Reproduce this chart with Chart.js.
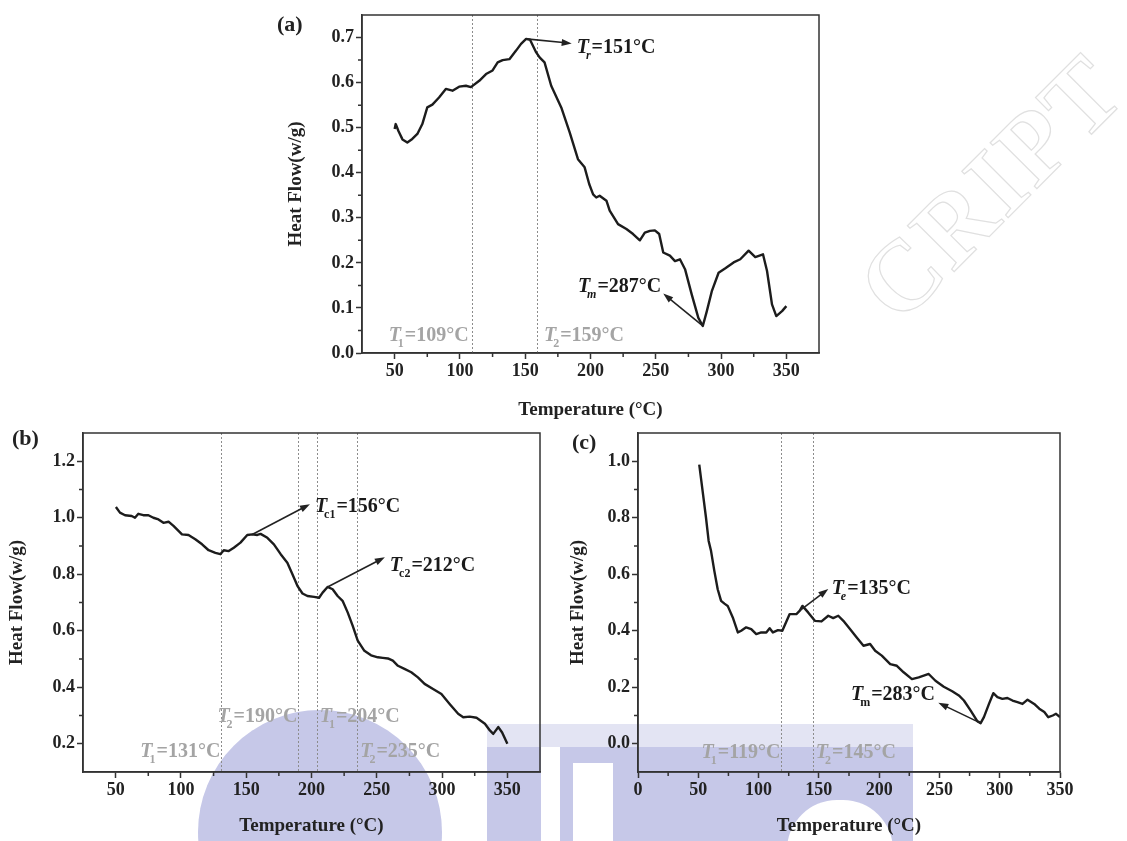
<!DOCTYPE html>
<html>
<head>
<meta charset="utf-8">
<title>DSC heat flow</title>
<script src="https://cdn.jsdelivr.net/npm/chart.js@4.4.1/dist/chart.umd.min.js"></script>
<style>
  html, body { margin: 0; padding: 0; background: #fff; }
  #page { position: relative; width: 1127px; height: 841px; overflow: hidden; }
  canvas { position: absolute; z-index: 2; }
  .wm { position: absolute; z-index: 1; background: #c6c8e8; }
  .wm.light { background: #e3e4f3; }
  .wm.white { background: #fff; }
  .stamp { position: absolute; z-index: 0; left: 835px; top: 262px; transform-origin: 0 0; transform: rotate(-45deg);
           font: bold 100px "Liberation Serif", serif; letter-spacing: 3px; color: transparent;
           -webkit-text-stroke: 1.2px #e0e0e0; white-space: nowrap; }
</style>
</head>
<body>
<div id="page">
  <!-- faint stamps behind the panels -->
  <div class="stamp">CRIPT</div>
  <div class="wm light" style="left:487px; top:724px; width:426px; height:23px;"></div>
  <div class="wm" style="left:198px; top:710px; width:244px; height:244px; border-radius:50%;"></div>
  <div class="wm" style="left:487px; top:747px; width:54px; height:94px;"></div>
  <div class="wm" style="left:560px; top:747px; width:353px; height:16px;"></div>
  <div class="wm" style="left:560px; top:763px; width:13px; height:78px;"></div>
  <div class="wm" style="left:613px; top:763px; width:300px; height:78px;"></div>
  <div class="wm white" style="left:787px; top:800px; width:106px; height:60px; border-radius:50px 50px 0 0;"></div>

  <canvas id="chartA" width="590" height="430" style="left:250px; top:0px;"></canvas>
  <canvas id="chartB" width="560" height="421" style="left:0px; top:420px;"></canvas>
  <canvas id="chartC" width="567" height="421" style="left:560px; top:420px;"></canvas>
</div>

<script>
// ---- data ----
const tempA = [50, 50.8, 53, 56, 59.7, 63.5, 67.4, 71.2, 75, 78.9, 84, 89.2, 94.3, 99.4, 104.6, 108.4,
  114.8, 120, 125, 128.9, 132.7, 137.9, 143, 146.8, 150.7, 153.7, 158.4, 161, 164.8, 169.9, 177.6, 184,
  190.4, 195.5, 199, 202, 204.4, 207, 212.2, 214.7, 221.1, 227.5, 232.6, 237.8, 241.6, 245.5, 249.3,
  252.6, 255.7, 260.8, 264.7, 268.5, 272.4, 277.5, 282.6, 286, 289.1, 293, 298.1, 303.3, 309.6, 314.7,
  321.1, 326.2, 332.1, 335.2, 339, 342.3, 346.7, 350];
const heatA = [0.497, 0.508, 0.492, 0.474, 0.467, 0.475, 0.486, 0.508, 0.545, 0.551, 0.567, 0.586, 0.582,
  0.591, 0.593, 0.590, 0.604, 0.619, 0.627, 0.645, 0.650, 0.652, 0.671, 0.686, 0.697, 0.695, 0.667, 0.656,
  0.645, 0.593, 0.545, 0.490, 0.430, 0.412, 0.375, 0.352, 0.345, 0.349, 0.338, 0.316, 0.286, 0.275, 0.264,
  0.250, 0.267, 0.271, 0.272, 0.264, 0.223, 0.216, 0.204, 0.208, 0.186, 0.130, 0.078, 0.060, 0.093, 0.138,
  0.178, 0.188, 0.201, 0.208, 0.227, 0.213, 0.219, 0.182, 0.108, 0.082, 0.093, 0.104];

const tempB = [50.2, 53.3, 57.2, 62.3, 64.8, 67.4, 71.2, 75.1, 78.9, 82.8, 86.6, 90.5, 94.3, 100.8, 105.8,
  111, 116.2, 121.2, 126.4, 130.2, 132.8, 136.6, 140.5, 145.6, 150.8, 154.6, 158.5, 161, 166.2, 171.2,
  176.4, 181.5, 185.4, 189.2, 193.1, 196.9, 202, 205.8, 208.5, 212.3, 216.2, 220, 223.8, 227.7, 231.5,
  235.4, 240.5, 245.6, 250.8, 254.6, 258.5, 262.3, 266.2, 271.2, 276.4, 281.5, 286.6, 293.1, 299.5,
  305.8, 312.3, 316.2, 321.2, 326.4, 332.8, 336.6, 339.2, 343.1, 346, 350];
const heatB = [1.038, 1.018, 1.009, 1.006, 1.000, 1.014, 1.009, 1.009, 1.000, 0.994, 0.982, 0.986, 0.971,
  0.941, 0.939, 0.924, 0.906, 0.885, 0.876, 0.871, 0.885, 0.882, 0.894, 0.912, 0.939, 0.941, 0.939, 0.943,
  0.929, 0.906, 0.871, 0.841, 0.800, 0.759, 0.732, 0.723, 0.720, 0.717, 0.735, 0.755, 0.747, 0.723, 0.706,
  0.665, 0.618, 0.565, 0.529, 0.513, 0.506, 0.504, 0.502, 0.494, 0.476, 0.465, 0.453, 0.435, 0.412, 0.394,
  0.376, 0.341, 0.306, 0.294, 0.296, 0.292, 0.271, 0.247, 0.235, 0.259, 0.240, 0.200];

const tempC = [50.8, 53.6, 56.4, 58.6, 60.6, 63.3, 66.1, 68.9, 71.7, 74.4, 78.6, 82.8, 85.6, 89.7, 93.9,
  98.1, 102.2, 106.4, 109.2, 111.9, 116.1, 119.7, 125.8, 131.4, 134.2, 136.4, 141.1, 146.7, 152.2, 157.8,
  161.9, 166.1, 170.3, 175.8, 181.4, 187, 192.5, 196.7, 202.2, 209.2, 214.7, 220.3, 227.2, 232.8, 237,
  241.1, 246.7, 253.6, 260.6, 266.1, 270.3, 275.8, 281.4, 284.2, 286.9, 291.1, 294.7, 298.1, 302.2, 306.4,
  310.6, 314.7, 318.9, 323.1, 328.6, 332.8, 337, 340.3, 344, 346.7, 350];
const heatC = [0.988, 0.894, 0.800, 0.718, 0.682, 0.612, 0.547, 0.506, 0.496, 0.488, 0.447, 0.394, 0.400,
  0.412, 0.406, 0.388, 0.394, 0.394, 0.409, 0.394, 0.402, 0.400, 0.459, 0.459, 0.471, 0.488, 0.465, 0.435,
  0.433, 0.453, 0.445, 0.453, 0.435, 0.406, 0.376, 0.347, 0.353, 0.329, 0.312, 0.282, 0.276, 0.253, 0.229,
  0.235, 0.241, 0.247, 0.223, 0.202, 0.186, 0.171, 0.153, 0.118, 0.080, 0.073, 0.094, 0.141, 0.179, 0.165,
  0.159, 0.162, 0.153, 0.147, 0.141, 0.156, 0.141, 0.124, 0.112, 0.094, 0.100, 0.106, 0.094];

// axis ticks
const xTicksAB = [50, 100, 150, 200, 250, 300, 350];
const xMinorAB = [75, 125, 175, 225, 275, 325];
const xTicksC = [0, 50, 100, 150, 200, 250, 300, 350];
const xMinorC = [25, 75, 125, 175, 225, 275, 325];
const yTicksA = [0, 0.1, 0.2, 0.3, 0.4, 0.5, 0.6, 0.7];
const yMinorA = [0.05, 0.15, 0.25, 0.35, 0.45, 0.55, 0.65];
const yTicksB = [0.2, 0.4, 0.6, 0.8, 1.0, 1.2];
const yMinorB = [0.3, 0.5, 0.7, 0.9, 1.1];
const yTicksC = [0, 0.2, 0.4, 0.6, 0.8, 1.0];
const yMinorC = [0.1, 0.3, 0.5, 0.7, 0.9];

// transition temperatures (dotted guides) and marked peaks
const linesA = [109, 159];
const lineNamesA = ['1', '2'];
const linesB = [131, 190, 204, 235];
const lineNamesB = ['1', '2', '1', '2'];
const linesC = [119, 145];
const lineNamesC = ['1', '2'];
const peaksA = [151, 287];
const peakNamesA = ['r', 'm'];
const peaksB = [156, 212];
const peakNamesB = ['c1', 'c2'];
const peaksC = [135, 283];
const peakNamesC = ['e', 'm'];

const FONT = '"Liberation Serif", "Times New Roman", serif';

function setFont(ctx, size, italic) {
    ctx.font = (italic ? 'italic ' : '') + 'bold ' + size + 'px ' + FONT;
}

// T with a subscript, then "=xxx°C"
function drawTag(ctx, x, y, name, nameItalic, rest, size, color, align) {
    const sub = Math.round(size * 0.62);
    setFont(ctx, size, true);
    const wT = ctx.measureText('T').width;
    setFont(ctx, sub, nameItalic);
    const wS = ctx.measureText(name).width;
    setFont(ctx, size, false);
    const wR = ctx.measureText(rest).width;
    const total = wT + wS + wR - 2;
    const x0 = align === 'right' ? x - total : x;
    ctx.fillStyle = color;
    ctx.textAlign = 'left';
    ctx.textBaseline = 'alphabetic';
    setFont(ctx, size, true);
    ctx.fillText('T', x0, y);
    setFont(ctx, sub, nameItalic);
    ctx.fillText(name, x0 + wT - 3, y + size * 0.3);
    setFont(ctx, size, false);
    ctx.fillText(rest, x0 + wT + wS - 2, y);
}

function drawArrow(ctx, x1, y1, x2, y2) {
    const ang = Math.atan2(y2 - y1, x2 - x1);
    ctx.save();
    ctx.strokeStyle = '#222';
    ctx.fillStyle = '#222';
    ctx.lineWidth = 1.6;
    ctx.beginPath();
    ctx.moveTo(x1, y1);
    ctx.lineTo(x2 - 6 * Math.cos(ang), y2 - 6 * Math.sin(ang));
    ctx.stroke();
    ctx.beginPath();
    ctx.moveTo(x2, y2);
    ctx.lineTo(x2 - 10 * Math.cos(ang) + 3.5 * Math.sin(ang), y2 - 10 * Math.sin(ang) - 3.5 * Math.cos(ang));
    ctx.lineTo(x2 - 10 * Math.cos(ang) - 3.5 * Math.sin(ang), y2 - 10 * Math.sin(ang) + 3.5 * Math.cos(ang));
    ctx.closePath();
    ctx.fill();
    ctx.restore();
}

const decor = {
    id: 'decor',
    beforeDatasetsDraw(chart, args, o) {
        const { ctx, chartArea: a, scales: { x } } = chart;
        ctx.save();
        ctx.strokeStyle = '#8c8c8c';
        ctx.lineWidth = 1;
        ctx.setLineDash([2, 2]);
        o.lines.forEach(v => {
            const px = Math.round(x.getPixelForValue(v)) + 0.5;
            ctx.beginPath();
            ctx.moveTo(px, a.top);
            ctx.lineTo(px, a.bottom);
            ctx.stroke();
        });
        ctx.restore();
    },
    afterDraw(chart, args, o) {
        const { ctx, chartArea: a, scales: { x, y } } = chart;
        ctx.save();
        // box round the plot
        ctx.strokeStyle = '#333';
        ctx.lineWidth = 1.5;
        ctx.strokeRect(a.left, a.top, a.right - a.left, a.bottom - a.top);
        // minor ticks
        ctx.beginPath();
        o.minorX.forEach(v => {
            const px = x.getPixelForValue(v);
            ctx.moveTo(px, a.bottom);
            ctx.lineTo(px, a.bottom + 4);
        });
        o.minorY.forEach(v => {
            const py = y.getPixelForValue(v);
            ctx.moveTo(a.left, py);
            ctx.lineTo(a.left - 4, py);
        });
        ctx.stroke();

        // panel letter
        setFont(ctx, 22, false);
        ctx.fillStyle = '#222';
        ctx.textAlign = 'left';
        ctx.fillText(o.panel, o.panelAt[0], o.panelAt[1]);

        // grey labels next to the dotted guides
        o.tags.forEach(t => {
            const v = o.lines[t.i];
            const px = x.getPixelForValue(v);
            const right = t.side === 'left';
            drawTag(ctx, right ? px - t.gap : px + t.gap, y.getPixelForValue(t.y),
                o.lineNames[t.i], false, '=' + v + '°C', 20, '#a4a4a4', right ? 'right' : 'left');
        });

        // peak arrows
        o.notes.forEach(n => {
            const T = o.peaks[n.i];
            let best = 0;
            o.temps.forEach((t, k) => { if (Math.abs(t - T) < Math.abs(o.temps[best] - T)) best = k; });
            const sx = x.getPixelForValue(o.temps[best]);
            const sy = y.getPixelForValue(o.heats[best]);
            drawArrow(ctx, sx, sy, x.getPixelForValue(n.tip[0]), y.getPixelForValue(n.tip[1]));
            drawTag(ctx, x.getPixelForValue(n.text[0]), y.getPixelForValue(n.text[1]),
                o.peakNames[n.i], n.it, '=' + T + '°C', 20, '#1a1a1a', n.align);
        });
        ctx.restore();
    }
};

function makePanel(id, p) {
    const tickFont = { family: FONT, size: 18, weight: 'bold' };
    const titleFont = { family: FONT, size: 19, weight: 'bold' };
    const points = p.temps.map((t, i) => ({ x: t, y: p.heats[i] }));
    return new Chart(document.getElementById(id), {
        type: 'scatter',
        data: {
            datasets: [{
                data: points,
                showLine: true,
                borderColor: '#1c1c1c',
                borderWidth: 2.4,
                borderJoinStyle: 'round',
                pointRadius: 0,
                tension: 0
            }]
        },
        options: {
            responsive: false,
            animation: false,
            layout: { padding: p.padding },
            plugins: {
                legend: { display: false },
                tooltip: { enabled: false },
                decor: p.decor
            },
            scales: {
                x: {
                    type: 'linear',
                    min: p.xMin,
                    max: p.xMax,
                    afterBuildTicks: s => { s.ticks = p.xTicks.map(v => ({ value: v })); },
                    afterFit: s => { s.height = p.xAxisH; },
                    grid: { drawOnChartArea: false, drawTicks: true, tickLength: 6, tickColor: '#333', tickWidth: 1.5 },
                    border: { display: true, color: '#333', width: 1.5 },
                    ticks: { font: tickFont, color: '#222', padding: 2, maxRotation: 0, autoSkip: false, callback: v => String(v) },
                    title: { display: true, text: 'Temperature (°C)', font: titleFont, color: '#222', padding: { top: 0, bottom: p.xTitlePad } }
                },
                y: {
                    min: p.yMin,
                    max: p.yMax,
                    afterBuildTicks: s => { s.ticks = p.yTicks.map(v => ({ value: v })); },
                    afterFit: s => { s.width = p.yAxisW; },
                    grid: { drawOnChartArea: false, drawTicks: true, tickLength: 6, tickColor: '#333', tickWidth: 1.5 },
                    border: { display: true, color: '#333', width: 1.5 },
                    ticks: { font: tickFont, color: '#222', padding: 2, callback: v => v.toFixed(1) },
                    title: { display: true, text: 'Heat Flow(w/g)', font: titleFont, color: '#222', padding: { top: p.yTitlePad, bottom: 0 } }
                }
            }
        },
        plugins: [decor]
    });
}

makePanel('chartA', {
    temps: tempA, heats: heatA,
    xMin: 25, xMax: 375, yMin: 0, yMax: 0.75,
    xTicks: xTicksAB, yTicks: yTicksA,
    padding: { top: 15, right: 21, bottom: 0, left: 0 },
    yAxisW: 112, xAxisH: 77, yTitlePad: 35, xTitlePad: 9,
    decor: {
        panel: '(a)', panelAt: [27, 31],
        minorX: xMinorAB, minorY: yMinorA,
        lines: linesA, lineNames: lineNamesA,
        tags: [{ i: 0, y: 0.027, side: 'left', gap: 3 }, { i: 1, y: 0.027, side: 'right', gap: 7 }],
        temps: tempA, heats: heatA, peaks: peaksA, peakNames: peakNamesA,
        notes: [
            { i: 0, it: true, tip: [185.6, 0.687], text: [189.4, 0.665], align: 'left' },
            { i: 1, it: true, tip: [255.7, 0.132], text: [254.2, 0.136], align: 'right' }
        ]
    }
});

makePanel('chartB', {
    temps: tempB, heats: heatB,
    xMin: 25, xMax: 375, yMin: 0.1, yMax: 1.3,
    xTicks: xTicksAB, yTicks: yTicksB,
    padding: { top: 13, right: 20, bottom: 0, left: 0 },
    yAxisW: 83, xAxisH: 69, yTitlePad: 6, xTitlePad: 4,
    decor: {
        panel: '(b)', panelAt: [12, 25],
        minorX: xMinorAB, minorY: yMinorB,
        lines: linesB, lineNames: lineNamesB,
        tags: [
            { i: 0, y: 0.154, side: 'left', gap: 1 },
            { i: 1, y: 0.278, side: 'left', gap: 1 },
            { i: 2, y: 0.278, side: 'right', gap: 3 },
            { i: 3, y: 0.154, side: 'right', gap: 3 }
        ],
        temps: tempB, heats: heatB, peaks: peaksB, peakNames: peakNamesB,
        notes: [
            { i: 0, it: false, tip: [198.8, 1.048], text: [202.6, 1.019], align: 'left' },
            { i: 1, it: false, tip: [256.2, 0.860], text: [260, 0.813], align: 'left' }
        ]
    }
});

makePanel('chartC', {
    temps: tempC, heats: heatC,
    xMin: 0, xMax: 350, yMin: -0.1, yMax: 1.1,
    xTicks: xTicksC, yTicks: yTicksC,
    padding: { top: 13, right: 67, bottom: 0, left: 0 },
    yAxisW: 78, xAxisH: 69, yTitlePad: 7, xTitlePad: 4,
    decor: {
        panel: '(c)', panelAt: [12, 29],
        minorX: xMinorC, minorY: yMinorC,
        lines: linesC, lineNames: lineNamesC,
        tags: [{ i: 0, y: -0.052, side: 'left', gap: 1 }, { i: 1, y: -0.052, side: 'right', gap: 3 }],
        temps: tempC, heats: heatC, peaks: peaksC, peakNames: peakNamesC,
        notes: [
            { i: 0, it: true, tip: [157.8, 0.548], text: [160.6, 0.531], align: 'left' },
            { i: 1, it: false, tip: [249.1, 0.145], text: [246.3, 0.154], align: 'right' }
        ]
    }
});
</script>
</body>
</html>
